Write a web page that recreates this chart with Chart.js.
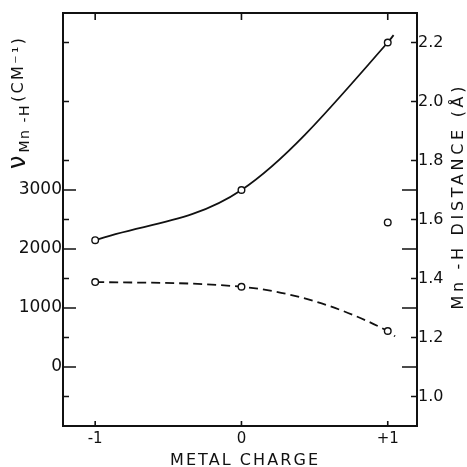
<!DOCTYPE html>
<html><head><meta charset="utf-8">
<script src="https://cdn.jsdelivr.net/npm/chart.js@4"></script>
<style>html,body{margin:0;padding:0;background:#fff;}</style>
</head><body>
<canvas id="c" width="467" height="467"></canvas>
<script>
// ---- data ----
const charges = [-1, 0, 1];
const xTickLabels = ['-1', '0', '+1'];
// solid curve (right axis, Mn-H distance, Å)
const distanceCalc = [1.53, 1.70, 2.20];
const distanceTailCharge = [1.04];
const distanceTail = [2.225];
// dashed curve (left axis, ν Mn-H, cm-1)
const frequency = [1440, 1360, 610];
const frequencyTailCharge = [1.05];
const frequencyTail = [520];
// isolated open circle (right axis)
const distanceExpCharge = [1];
const distanceExp = [1.59];
// axis ticks
const freqTickLabels = [0, 1000, 2000, 3000];
const freqMinorTicks = [-500, 500, 1500, 2500, 3500, 4500, 5500];
const distTickLabels = [1.0, 1.2, 1.4, 1.6, 1.8, 2.0, 2.2];
const distMajorTicks = [1.1, 1.3, 1.5, 1.7];

const INK = '#111';
const FONT = 'DejaVu Sans';

function pts(xs, ys) { return xs.map((x, i) => ({ x: x, y: ys[i] })); }

function drawSpaced(ctx, text, cx, cy, len, font, rot, baseline) {
  ctx.save();
  ctx.font = font;
  ctx.fillStyle = INK;
  if ('letterSpacing' in ctx) ctx.letterSpacing = '0px';
  const w0 = ctx.measureText(text).width;
  const n = [...text].length;
  const sp = n > 1 ? (len - w0) / (n - 1) : 0;
  ctx.translate(cx, cy);
  ctx.rotate(rot);
  ctx.textBaseline = baseline || 'middle';
  ctx.textAlign = 'left';
  if ('letterSpacing' in ctx) ctx.letterSpacing = sp.toFixed(2) + 'px';
  ctx.fillText(text, -len / 2, 0);
  ctx.restore();
}

const framePlugin = {
  id: 'frame',
  afterDraw(chart) {
    const ctx = chart.ctx;
    const a = chart.chartArea;
    const x = chart.scales.x, yL = chart.scales.yL, yR = chart.scales.yR;
    ctx.save();
    ctx.strokeStyle = INK;
    ctx.lineWidth = 2;
    ctx.strokeRect(a.left, a.top, a.right - a.left, a.bottom - a.top);
    ctx.lineWidth = 1.6;
    ctx.beginPath();
    charges.forEach(c => {
      const px = x.getPixelForValue(c);
      ctx.moveTo(px, a.bottom); ctx.lineTo(px, a.bottom - 5);
      ctx.moveTo(px, a.top); ctx.lineTo(px, a.top + 7);
    });
    freqTickLabels.forEach(v => {
      const py = yL.getPixelForValue(v);
      ctx.moveTo(a.left, py); ctx.lineTo(a.left + 13, py);
    });
    freqMinorTicks.forEach(v => {
      const py = yL.getPixelForValue(v);
      ctx.moveTo(a.left, py); ctx.lineTo(a.left + 6, py);
    });
    distMajorTicks.forEach(v => {
      const py = yR.getPixelForValue(v);
      ctx.moveTo(a.right, py); ctx.lineTo(a.right - 15, py);
    });
    distTickLabels.forEach(v => {
      const py = yR.getPixelForValue(v);
      ctx.moveTo(a.right + 1, py); ctx.lineTo(a.right - 6, py);
    });
    ctx.stroke();
    ctx.restore();

    // axis titles
    drawSpaced(ctx, 'METAL CHARGE', 244, 461, 148, '16px ' + FONT, 0, 'middle');
    drawSpaced(ctx, 'Mn -H DISTANCE (Å)', 463, 198, 223, '16px ' + FONT, -Math.PI / 2, 'alphabetic');
    // left title: ν with subscript Mn-H, then (CM⁻¹)
    drawSpaced(ctx, 'ν', 25, 162, 14, '24px ' + FONT, -Math.PI / 2, 'alphabetic');
    drawSpaced(ctx, 'Mn -H', 29, 129, 47, '14px ' + FONT, -Math.PI / 2, 'alphabetic');
    drawSpaced(ctx, '(CM⁻¹)', 23, 70, 64, '16px ' + FONT, -Math.PI / 2, 'alphabetic');
  }
};

const pointStyle = {
  pointBackgroundColor: '#fff',
  pointBorderColor: INK,
  pointBorderWidth: 1.4
};

new Chart(document.getElementById('c'), {
  type: 'scatter',
  data: {
    datasets: [
      Object.assign({
        label: 'Mn-H distance (calc.)',
        data: pts(charges, distanceCalc).concat(pts(distanceTailCharge, distanceTail)),
        yAxisID: 'yR',
        showLine: true,
        borderColor: INK,
        borderWidth: 1.8,
        cubicInterpolationMode: 'monotone',
        pointRadius: [3.3, 3.3, 3.3, 0]
      }, pointStyle),
      Object.assign({
        label: 'ν Mn-H',
        data: pts(charges, frequency).concat(pts(frequencyTailCharge, frequencyTail)),
        yAxisID: 'yL',
        showLine: true,
        borderColor: INK,
        borderWidth: 1.8,
        borderDash: [9, 5],
        cubicInterpolationMode: 'monotone',
        pointRadius: [3.3, 3.3, 3.3, 0]
      }, pointStyle),
      Object.assign({
        label: 'Mn-H distance (exp.)',
        data: pts(distanceExpCharge, distanceExp),
        yAxisID: 'yR',
        showLine: false,
        pointRadius: 3.3
      }, pointStyle)
    ]
  },
  options: {
    responsive: false,
    animation: false,
    layout: { padding: { top: 13, left: 0, right: 0, bottom: 0 } },
    plugins: { legend: { display: false }, tooltip: { enabled: false } },
    scales: {
      x: {
        type: 'linear', position: 'bottom', min: -1.22, max: 1.2,
        grid: { display: false, drawTicks: false }, border: { display: false },
        afterBuildTicks: s => { s.ticks = charges.map(v => ({ value: v })); },
        afterFit: s => { s.height = 41; },
        ticks: {
          color: INK, padding: 4, font: { family: FONT, size: 15 },
          maxRotation: 0, autoSkip: false,
          callback: v => xTickLabels[charges.indexOf(v)]
        }
      },
      yL: {
        type: 'linear', position: 'left', min: -1000, max: 6000,
        grid: { display: false, drawTicks: false }, border: { display: false },
        afterBuildTicks: s => { s.ticks = freqTickLabels.map(v => ({ value: v })); },
        afterFit: s => { s.width = 63; },
        ticks: { color: INK, padding: 1, font: { family: FONT, size: 17 }, autoSkip: false,
          callback: v => String(v) }
      },
      yR: {
        type: 'linear', position: 'right', min: 0.9, max: 2.3,
        grid: { display: false, drawTicks: false }, border: { display: false },
        afterBuildTicks: s => { s.ticks = distTickLabels.map(v => ({ value: v })); },
        afterFit: s => { s.width = 50; },
        ticks: { color: INK, padding: 1, font: { family: FONT, size: 16 }, autoSkip: false,
          callback: v => Number(v).toFixed(1) }
      }
    }
  },
  plugins: [framePlugin]
});
</script>
</body></html>
